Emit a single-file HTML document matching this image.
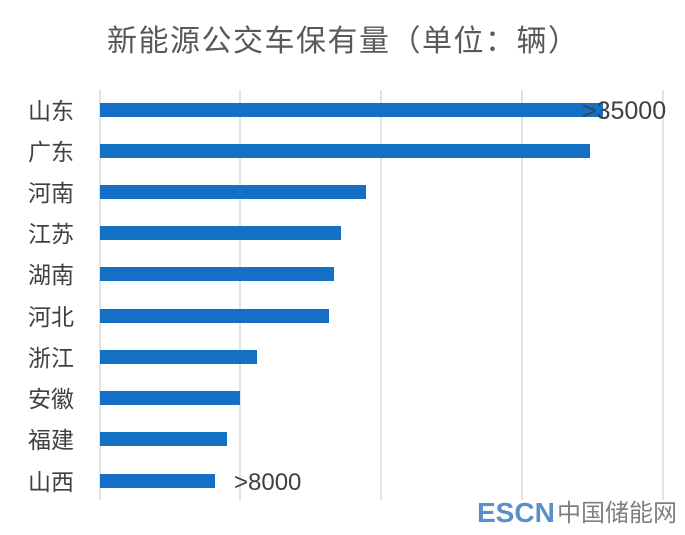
<!DOCTYPE html>
<html><head><meta charset="utf-8"><style>
body{margin:0;background:#fff;}
svg text{font-family:"Liberation Sans","Noto Sans CJK SC",sans-serif;}
</style></head><body>
<svg width="685" height="530" xmlns="http://www.w3.org/2000/svg">
<rect width="685" height="530" fill="#fff"/>
<text x="107" y="51" font-size="30" letter-spacing="1.5" fill="#595959" font-family="Noto Sans CJK SC, sans-serif">新能源公交车保有量（单位：辆）</text>
<g stroke="#d9d9d9" stroke-width="1.5">
<line x1="100" y1="90" x2="100" y2="500"/>
<line x1="240" y1="90" x2="240" y2="500"/>
<line x1="381" y1="90" x2="381" y2="500"/>
<line x1="522" y1="90" x2="522" y2="500"/>
<line x1="663" y1="90" x2="663" y2="500"/>
</g>
<g fill="#1470c4">
<rect x="100" y="103" width="503" height="14"/>
<rect x="100" y="144" width="490" height="14"/>
<rect x="100" y="185" width="266" height="14"/>
<rect x="100" y="226" width="241" height="14"/>
<rect x="100" y="267" width="234" height="14"/>
<rect x="100" y="309" width="229" height="14"/>
<rect x="100" y="350" width="157" height="14"/>
<rect x="100" y="391" width="140" height="14"/>
<rect x="100" y="432" width="127" height="14"/>
<rect x="100" y="474" width="115" height="14"/>
</g>
<g font-size="23" fill="#404040" font-family="Noto Sans CJK SC, sans-serif">
<text x="28" y="119">山东</text>
<text x="28" y="160">广东</text>
<text x="28" y="201">河南</text>
<text x="28" y="242">江苏</text>
<text x="28" y="283">湖南</text>
<text x="28" y="325">河北</text>
<text x="28" y="366">浙江</text>
<text x="28" y="407">安徽</text>
<text x="28" y="448">福建</text>
<text x="28" y="490">山西</text>
</g>
<text x="582" y="119" font-size="25" fill="#404040">&gt;35000</text>
<text x="234" y="490" font-size="24" fill="#404040">&gt;8000</text>
<text x="477" y="522" font-size="28" font-weight="bold" fill="#5b8fc9">ESCN</text>
<text x="557" y="521" font-size="24" fill="#808080" font-family="Noto Sans CJK SC, sans-serif">中国储能网</text>
</svg>
</body></html>
